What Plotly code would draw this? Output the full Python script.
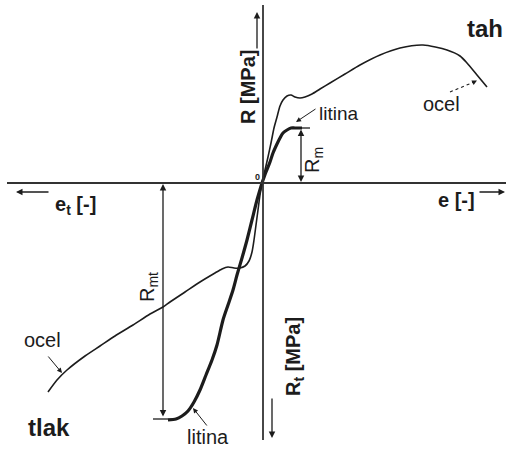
import plotly.graph_objects as go

# Schematic stress-strain diagram: tension (tah) in the upper right,
# compression (tlak) in the lower left. Units are arbitrary.

# steel (ocel) in tension
ocel_tah_e = [0, 3, 6, 9, 12, 15, 18, 21, 25, 29, 33, 38, 43, 50, 58, 68, 83, 98,
              118, 138, 161, 185, 198, 205, 215, 225]
ocel_tah_R = [0, 13, 26, 40, 55, 66, 77, 83, 87, 88, 86, 85, 86, 89, 94, 100, 109, 118,
              128, 135, 138, 133, 127, 120, 108, 96]

# cast iron (litina) in tension
litina_tah_e = [0, 4, 8, 11, 15, 18, 21, 25, 29, 33, 40]
litina_tah_R = [0, 11, 21, 30, 39, 45, 50, 53, 55, 55, 55]

# steel (ocel) in compression
ocel_tlak_e = [0, -2, -4, -6, -8, -10, -13, -17, -22, -28, -34, -40, -47, -62, -77,
               -92, -99, -112, -129, -147, -162, -177, -195, -205, -214]
ocel_tlak_R = [0, -12, -27, -42, -57, -69, -78, -83, -85, -85, -84, -86, -90, -99, -109,
               -119, -124, -131, -142, -153, -163, -173, -187, -197, -209]

# cast iron (litina) in compression
litina_tlak_e = [0, -5, -10, -15, -20, -25, -29, -34, -39, -45, -50, -56, -62, -68, -74,
                 -80, -86, -94]
litina_tlak_R = [0, -17, -37, -57, -75, -92, -107, -122, -137, -162, -177, -192, -207, -219,
                 -228, -233, -236, -237]

# strength levels
R_m = 55
R_mt = -236

INK = "#1c1c1c"
FONT = "Liberation Sans, Arial, sans-serif"

fig = go.Figure()

fig.add_trace(go.Scatter(x=ocel_tah_e, y=ocel_tah_R, mode="lines",
                         line=dict(color=INK, width=1.6, shape="spline", smoothing=0.7),
                         hoverinfo="skip"))
fig.add_trace(go.Scatter(x=litina_tah_e, y=litina_tah_R, mode="lines",
                         line=dict(color=INK, width=3.2, shape="spline", smoothing=0.7),
                         hoverinfo="skip"))
fig.add_trace(go.Scatter(x=ocel_tlak_e, y=ocel_tlak_R, mode="lines",
                         line=dict(color=INK, width=1.6, shape="spline", smoothing=0.7),
                         hoverinfo="skip"))
fig.add_trace(go.Scatter(x=litina_tlak_e, y=litina_tlak_R, mode="lines",
                         line=dict(color=INK, width=3.2, shape="spline", smoothing=0.7),
                         hoverinfo="skip"))

shapes = []
# coordinate axes
shapes.append(dict(type="line", x0=-255, x1=244, y0=0, y1=0, line=dict(color="#333", width=1.8)))
shapes.append(dict(type="line", x0=1, x1=1, y0=178, y1=-257, line=dict(color="#333", width=1.8)))
# level ticks for R_m and R_mt
shapes.append(dict(type="line", x0=38, x1=48, y0=R_m, y1=R_m, line=dict(color=INK, width=1.3)))
shapes.append(dict(type="line", x0=-109, x1=-88, y0=R_mt, y1=R_mt, line=dict(color=INK, width=1.3)))
# dashed pointer to the steel curve
shapes.append(dict(type="line", x0=188, x1=212, y0=91, y1=101,
                   line=dict(color=INK, width=1.1, dash="dot")))

ann = []


def arrow(x_from, y_from, x_to, y_to, both=False, width=1.3, head=2, size=1.0):
    ann.append(dict(x=x_to, y=y_to, ax=x_from, ay=y_from, xref="x", yref="y",
                    axref="x", ayref="y", text="", showarrow=True,
                    arrowhead=head, arrowsize=size, arrowwidth=width, arrowcolor=INK,
                    startarrowhead=head, startarrowsize=size,
                    arrowside="end+start" if both else "end"))


def label(x, y, text, size=20, bold=False, angle=0):
    if bold:
        text = "<b>" + text + "</b>"
    ann.append(dict(x=x, y=y, xref="x", yref="y", text=text, showarrow=False,
                    textangle=angle, font=dict(family=FONT, size=size, color=INK)))


# axis direction arrows
arrow(-5, 133, -5, 171)
arrow(216, -9, 243, -9)
arrow(-212, -9, -246, -9)
arrow(10, -214, 10, -255)

# strength dimension arrows
arrow(39, R_m, 39, 1, both=True)
arrow(-99, R_mt + 1, -99, -1, both=True)

# pointers to the curves
arrow(55, 75, 34, 61, width=1.0)
arrow(212, 101, 215, 102.5, width=1.0)
arrow(-215, -172, -200, -190, width=1.0)
arrow(-54, -244, -69, -225, width=1.0)

# text labels
label(223, 155, "tah", size=24, bold=True)
label(179, 79, "ocel", size=20)
label(77, 70, "litina", size=19)
label(51, 23, "R<sub>m</sub>", size=20, angle=-90)
label(-5, 6, "0", size=9, bold=True)
label(-14, 96, "R [MPa]", size=20, bold=True, angle=-90)
label(194, -17, "e [-]", size=20, bold=True)
label(-187, -22, "e<sub>t</sub> [-]", size=20, bold=True)
label(-114, -104, "R<sub>mt</sub>", size=20, angle=-90)
label(-220, -157, "ocel", size=20)
label(-213, -244, "tlak", size=24, bold=True)
label(-54, -254, "litina", size=20)
label(32, -174, "R<sub>t</sub> [MPa]", size=20, bold=True, angle=-90)

fig.update_layout(
    width=506, height=451,
    margin=dict(l=0, r=0, t=0, b=0),
    paper_bgcolor="white", plot_bgcolor="white",
    showlegend=False,
    shapes=shapes, annotations=ann,
    xaxis=dict(range=[-262, 244], visible=False, fixedrange=True),
    yaxis=dict(range=[-268, 183], visible=False, fixedrange=True),
)

fig.write_html("out.html")
